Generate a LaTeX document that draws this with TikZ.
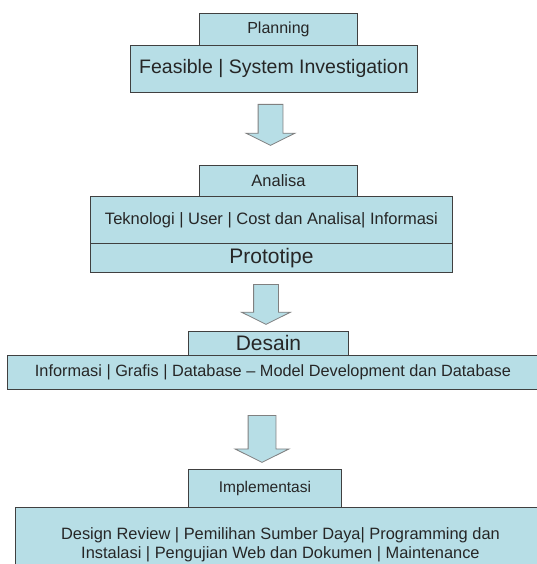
\documentclass[tikz,border=0pt]{standalone}
\usepackage{fontspec}
\setmainfont{Liberation Sans}
\usetikzlibrary{shapes.arrows}
\definecolor{sdlcblue}{RGB}{183,222,230}
\definecolor{sdlcline}{RGB}{64,64,64}

\begin{document}
\begin{tikzpicture}[x=1pt, y=-1pt] % Styles
\tikzstyle{tab}=[draw=sdlcline, line width=0.9pt, fill=sdlcblue, anchor=north west, inner sep=0pt, align=center, text=black!85]
\tikzstyle{flow}=[single arrow, draw=gray, line width=0.8pt, fill=sdlcblue, shape border rotate=270, single arrow head extend=12pt, single arrow tip angle=127, inner sep=12pt, anchor=tail]
\useasboundingbox (0,0) rectangle (536,564); % Planning
\node[tab, minimum width=158pt, minimum height=32pt, font=\fontsize{16}{19}\selectfont] (plan) at (199,13) {Planning};
\node[tab, minimum width=287pt, minimum height=47pt, font=\fontsize{19.5}{23}\selectfont] (feas) at (130,45) {Feasible | System Investigation};
\node[flow, minimum height=41pt, minimum width=48pt] (down1) at (270.5,104) {}; % Analisa
\node[tab, minimum width=158pt, minimum height=31pt, font=\fontsize{16.5}{19}\selectfont] (ana) at (199,165) {Analisa};
\node[tab, minimum width=362pt, minimum height=47pt, font=\fontsize{16.5}{19}\selectfont] (tekno) at (90,196) {Teknologi | User | Cost dan Analisa| Informasi};
\node[tab, minimum width=362pt, minimum height=29pt, font=\fontsize{21}{24}\selectfont] (proto) at (90,243) {Prototipe};
\node[flow, minimum height=40pt, minimum width=48pt] (down2) at (266,284) {}; % Desain
\node[tab, minimum width=160pt, minimum height=24pt, font=\fontsize{21}{24}\selectfont] (desain) at (188,331) {Desain};
\node[tab, minimum width=531pt, minimum height=34pt, font=\fontsize{16.3}{19}\selectfont] (info) at (7,355) {Informasi | Grafis | Database -- Model Development dan Database};
\node[flow, minimum height=47pt, minimum width=53pt, inner sep=13.5pt, single arrow head extend=13pt] (down3) at (262,415) {}; % Implementasi
\node[tab, minimum width=153pt, minimum height=38pt, font=\fontsize{15.5}{18}\selectfont] (impl) at (188,469) {Implementasi};
\node[tab, minimum width=530pt, minimum height=74pt, font=\fontsize{16.4}{19}\selectfont] (review) at (15,507) {Design Review | Pemilihan Sumber Daya| Programming dan\\ Instalasi | Pengujian Web dan Dokumen | Maintenance};
\end{tikzpicture}
\end{document}
